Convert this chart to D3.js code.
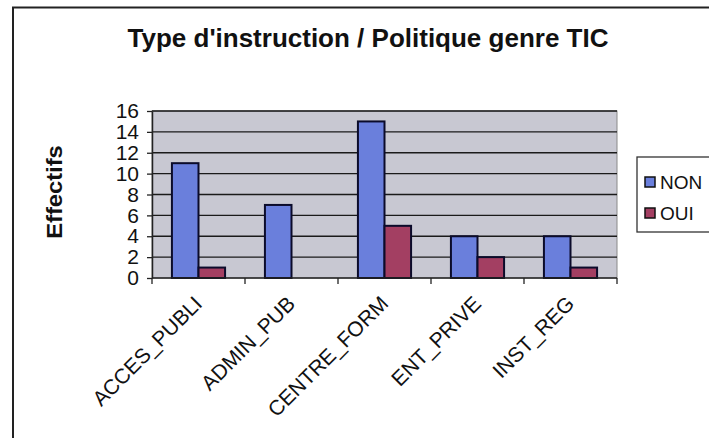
<!DOCTYPE html>
<html>
<head>
<meta charset="utf-8">
<script src="https://cdn.jsdelivr.net/npm/d3@7"></script>
<style>
  html, body { margin: 0; padding: 0; background: #ffffff; }
  svg { display: block; font-family: "Liberation Sans", Arial, sans-serif; }
</style>
</head>
<body>
<svg id="chart" width="709" height="438"></svg>
<script>
// Effectifs par type d'institution, selon l'existence d'une politique genre TIC
const categories = ["ACCES_PUBLI", "ADMIN_PUB", "CENTRE_FORM", "ENT_PRIVE", "INST_REG"];
const seriesNames = ["NON", "OUI"];
const valuesNON = [11, 7, 15, 4, 4];
const valuesOUI = [1, 0, 5, 2, 1];
const yTicks = [0, 2, 4, 6, 8, 10, 12, 14, 16];

const colors = { NON: "#6a7fdc", OUI: "#a33f62" };
const seriesValues = { NON: valuesNON, OUI: valuesOUI };

const svg = d3.select("#chart");

// outer chart frame (extends past the right and bottom edges)
svg.append("rect")
  .attr("x", 13).attr("y", 7.5)
  .attr("width", 760).attr("height", 500)
  .attr("fill", "#ffffff")
  .attr("stroke", "#222").attr("stroke-width", 2);

const plot = { left: 152, top: 111, right: 617, bottom: 278 };

const x0 = d3.scaleBand().domain(categories).range([plot.left, plot.right]).padding(0);
const x1 = d3.scaleBand().domain(seriesNames).range([0, x0.bandwidth()])
  .paddingInner(0).paddingOuter(0.75);
const y = d3.scaleLinear().domain([0, 16]).range([plot.bottom, plot.top]);

// plot area background
svg.append("rect")
  .attr("x", plot.left).attr("y", plot.top)
  .attr("width", plot.right - plot.left).attr("height", plot.bottom - plot.top)
  .attr("fill", "#c8c8d2")
  .attr("stroke", "#8a8a8a").attr("stroke-width", 1);

// horizontal gridlines
svg.append("g").selectAll("line")
  .data(yTicks.filter(t => t > 0))
  .join("line")
  .attr("x1", plot.left).attr("x2", plot.right)
  .attr("y1", d => y(d)).attr("y2", d => y(d))
  .attr("stroke", "#1a1a1a").attr("stroke-width", 1.3);

// bars
const groups = svg.append("g").selectAll("g")
  .data(categories)
  .join("g")
  .attr("transform", d => `translate(${x0(d)},0)`);

groups.selectAll("rect")
  .data((c, i) => seriesNames.map(s => ({ s, v: seriesValues[s][i] })))
  .join("rect")
  .filter(d => d.v > 0)
  .attr("x", d => x1(d.s))
  .attr("y", d => y(d.v))
  .attr("width", x1.bandwidth())
  .attr("height", d => y(0) - y(d.v))
  .attr("fill", d => colors[d.s])
  .attr("stroke", "#0b0b2a").attr("stroke-width", 2);

// y axis
const yAxis = svg.append("g")
  .attr("transform", `translate(${plot.left},0)`)
  .call(d3.axisLeft(y).tickValues(yTicks).tickSize(5).tickPadding(8).tickSizeOuter(0));
yAxis.select(".domain").attr("stroke", "#222").attr("stroke-width", 1.5);
yAxis.selectAll(".tick line").attr("stroke", "#222").attr("stroke-width", 1.3);
yAxis.selectAll("text").attr("font-size", 21).attr("fill", "#111");

// x axis: ticks between categories
const boundaries = categories.map(c => x0(c)).concat([plot.right]);
svg.append("line")
  .attr("x1", plot.left).attr("x2", plot.right)
  .attr("y1", plot.bottom).attr("y2", plot.bottom)
  .attr("stroke", "#222").attr("stroke-width", 1.5);
svg.append("g").selectAll("line")
  .data(boundaries)
  .join("line")
  .attr("x1", d => d).attr("x2", d => d)
  .attr("y1", plot.bottom).attr("y2", plot.bottom + 6)
  .attr("stroke", "#222").attr("stroke-width", 1.3);

svg.append("g").selectAll("text")
  .data(categories)
  .join("text")
  .attr("transform", d => `translate(${x0(d) + x0.bandwidth() / 2 + 5},${plot.bottom + 27}) rotate(-45)`)
  .attr("text-anchor", "end")
  .attr("font-size", 21)
  .attr("fill", "#111")
  .text(d => d);

// y axis title
svg.append("text")
  .attr("transform", `translate(62,192) rotate(-90) scale(1.08,1)`)
  .attr("text-anchor", "middle")
  .attr("font-size", 22).attr("font-weight", "bold")
  .attr("fill", "#111")
  .text("Effectifs");

// chart title
svg.append("text")
  .attr("x", 368).attr("y", 47)
  .attr("text-anchor", "middle")
  .attr("font-size", 26).attr("font-weight", "bold")
  .attr("fill", "#111")
  .text("Type d'instruction / Politique genre TIC");

// legend
const legend = svg.append("g").attr("transform", "translate(637,157)");
legend.append("rect")
  .attr("width", 100).attr("height", 75)
  .attr("fill", "#ffffff").attr("stroke", "#333").attr("stroke-width", 1.3);
const items = legend.selectAll("g.item")
  .data(seriesNames)
  .join("g")
  .attr("class", "item")
  .attr("transform", (d, i) => `translate(8,${21 + i * 31})`);
items.append("rect")
  .attr("x", 0).attr("y", -1)
  .attr("width", 10).attr("height", 10)
  .attr("fill", d => colors[d]).attr("stroke", "#111").attr("stroke-width", 1.5);
items.append("text")
  .attr("x", 15).attr("y", 11)
  .attr("font-size", 19).attr("fill", "#111")
  .text(d => d);
</script>
</body>
</html>
